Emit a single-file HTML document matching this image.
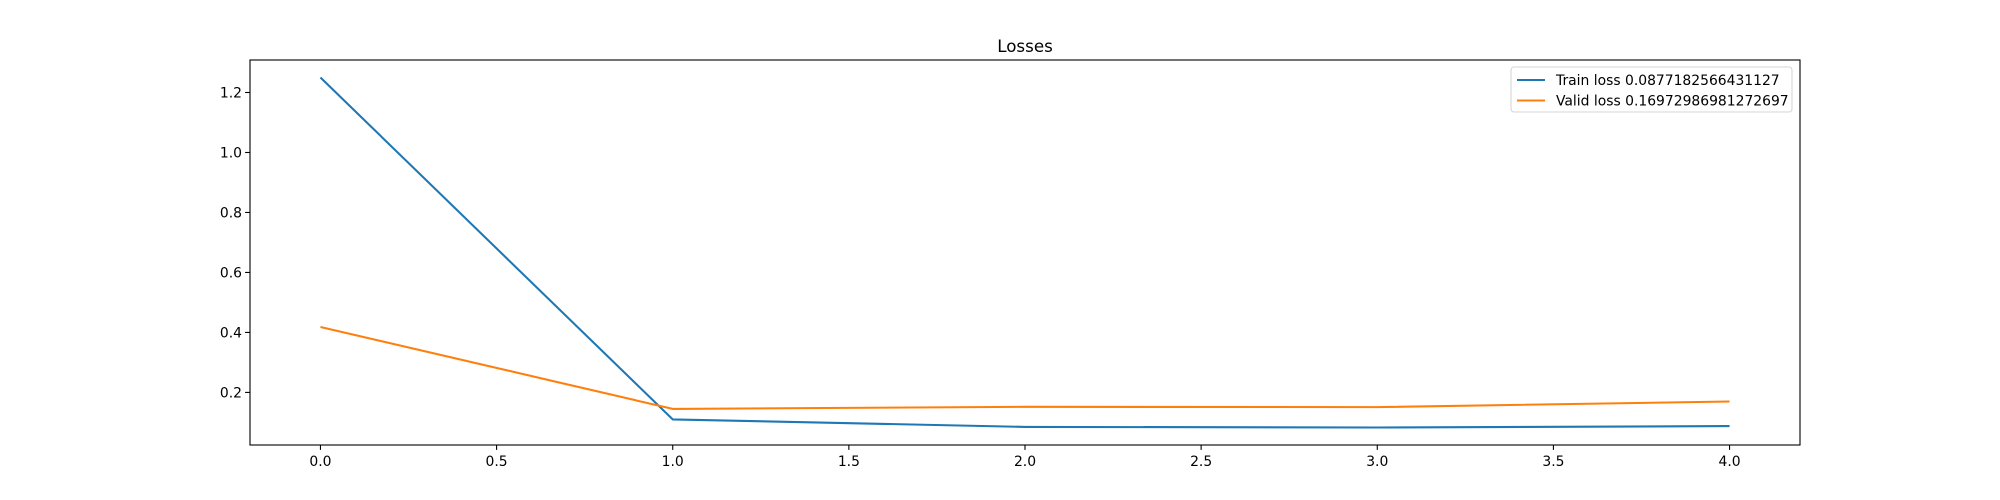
<!DOCTYPE html>
<html><head><meta charset="utf-8"><style>body{margin:0;background:#fff}svg{display:block}text{font-family:"DejaVu Sans","Liberation Sans",sans-serif}</style></head>
<body>
<svg id="c" width="2000" height="500"></svg>
<script>
const epochs=[0,1,2,3,4];
const trainLoss=[1.25,0.11,0.085,0.083,0.0877];
const validLoss=[0.418,0.145,0.152,0.151,0.1697];
const xTicks=[0,0.5,1,1.5,2,2.5,3,3.5,4];
const yTicks=[0.2,0.4,0.6,0.8,1.0,1.2];
const seriesNames=["Train loss 0.0877182566431127","Valid loss 0.16972986981272697"];
const L=250,R=1800,T=60,B=445;
const all=trainLoss.concat(validLoss);
let ymn=Math.min(...all),ymx=Math.max(...all),yr=ymx-ymn;ymn-=yr*0.05;ymx+=yr*0.05;
let xmn=Math.min(...epochs),xmx=Math.max(...epochs),xr=xmx-xmn;xmn-=xr*0.05;xmx+=xr*0.05;
const X=v=>L+(v-xmn)/(xmx-xmn)*(R-L), Y=v=>B-(v-ymn)/(ymx-ymn)*(B-T);
const svg=document.getElementById('c');const NS='http://www.w3.org/2000/svg';
function el(t,a,p){const e=document.createElementNS(NS,t);for(const k in a)e.setAttribute(k,a[k]);(p||svg).appendChild(e);return e;}
xTicks.forEach(v=>{const x=X(v);
const t=el('line',{x1:x,x2:x,y1:B,y2:B+4.9,stroke:'#000','stroke-width':1.1});


const s=el('text',{x:x,y:B+21,'font-size':13.9,'text-anchor':'middle'});s.textContent=v.toFixed(1);

});
yTicks.forEach(v=>{const y=Y(v);
const t=el('line',{x1:L-4.9,x2:L,y1:y,y2:y,stroke:'#000','stroke-width':1.1});


const s=el('text',{x:L-8,y:y+5,'font-size':13.9,'text-anchor':'end'});s.textContent=v.toFixed(1);

});
const cols=['#1f77b4','#ff7f0e'];
[trainLoss,validLoss].forEach((d,i)=>{
const p=el('polyline',{points:d.map((v,j)=>X(epochs[j])+','+Y(v)).join(' '),fill:'none',stroke:cols[i],'stroke-width':2.08,'stroke-linejoin':'round'});

});
const fr=el('rect',{x:L,y:T,width:R-L,height:B-T,fill:'none',stroke:'#000','stroke-width':1.1});


const ti=el('text',{x:(L+R)/2,y:T-8,'font-size':16.7,'text-anchor':'middle'});ti.textContent='Losses';


const lg=el('g',{});


el('rect',{x:1511,y:67,width:281,height:45,rx:3,fill:'#fff',stroke:'#ccc','stroke-width':1.1,opacity:0.8},lg);
seriesNames.forEach((n,i)=>{const y=80+i*20.5;
el('line',{x1:1517,x2:1545,y1:y,y2:y,stroke:cols[i],'stroke-width':2.08},lg);
const s=el('text',{x:1556,y:y+5,'font-size':13.9},lg);s.textContent=n;

});
</script>
</body></html>
